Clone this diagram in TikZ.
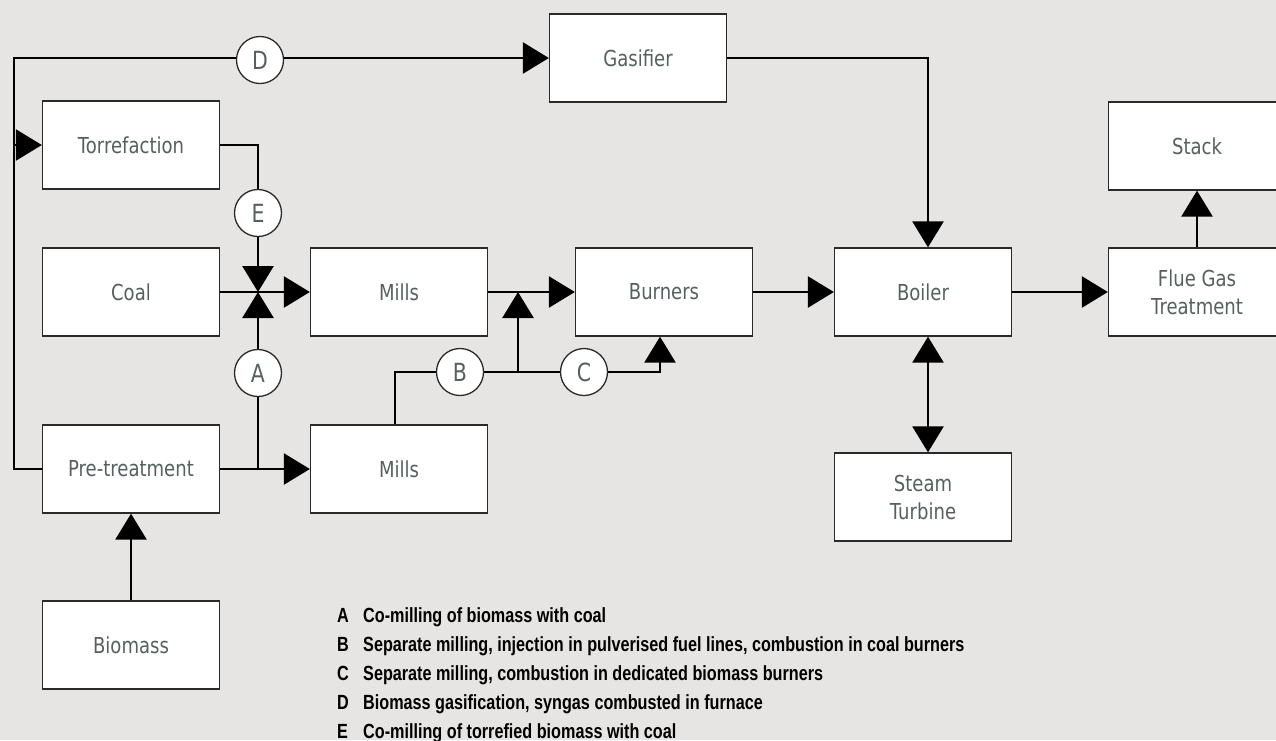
\documentclass[tikz,border=0pt]{standalone}
\usepackage{fontspec}
\setmainfont{DejaVu Sans}[FakeStretch=0.82]
\newfontfamily\legendfont{Liberation Sans}[FakeStretch=0.79]
\usetikzlibrary{arrows.meta,calc}
\definecolor{bg}{HTML}{E6E5E3}
\definecolor{txt}{HTML}{56605F}
\definecolor{frame}{HTML}{2A2A2A}
\tikzset{
  box/.style={draw=frame, line width=1.3pt, fill=white, minimum width=177pt, minimum height=88pt, inner sep=0pt,
    text=txt, align=center, font=\fontsize{22}{28}\selectfont},
  tag/.style={circle, draw=frame, line width=1.3pt, fill=white, minimum size=47pt, inner sep=0pt,
    text=txt, font=\fontsize{25}{28}\selectfont},
  link/.style={line width=2.6pt, black},
  arr/.style={link, -{Triangle[length=26pt,width=31pt]}},
  darr/.style={link, {Triangle[length=26pt,width=31pt]}-{Triangle[length=26pt,width=31pt]}},
  leg/.style={anchor=base west, inner sep=0pt, font=\legendfont\bfseries\fontsize{20.5}{22}\selectfont, text=black}
}
\begin{document}
\begin{tikzpicture}[x=1pt,y=-1pt]
\useasboundingbox (0,0) rectangle (1276,740);
\fill[bg] (0,0) rectangle (1276,740);

% boxes
\node[box] (tor) at (131,145) {Torrefaction};
\node[box] (gas) at (638,58) {Gasifier};
\node[box] (stack) at (1197,146) {Stack};
\node[box] (coal) at (131,292) {Coal};
\node[box] (mills1) at (399,292) {Mills};
\node[box] (burn) at (664,292) {Burners};
\node[box] (boiler) at (923,292) {Boiler};
\node[box] (flue) at (1197,292) {Flue Gas\\Treatment};
\node[box] (pre) at (131,469) {Pre-treatment};
\node[box] (mills2) at (399,469) {Mills};
\node[box] (turb) at (923,497) {Steam\\Turbine};
\node[box] (bio) at (131,645) {Biomass};

% junction coordinates
\coordinate (lc) at (14,469);
\coordinate (tc) at (14,58);
\coordinate (J1) at (258,292);
\coordinate (J2) at (518,292);
\coordinate (J3) at (518,372);
\coordinate (pj) at (258,469);

% connectors (drawn before tags so circles sit on top)
\draw[link] (pre.west) -- (lc) -- (tc) -- (260,58);
\draw[arr] (260,58) -- (gas.west);
\draw[arr] (lc |- tor.west) -- (tor.west);
\draw[link] (tor.east) -| (258,213);
\draw[arr] (258,213) -- (J1);
\draw[arr] (coal.east) -- (mills1.west);
\draw[arr] (pre.east) -- (mills2.west);
\draw[link] (pj) -- (258,373);
\draw[arr] (258,373) -- (J1);
\draw[link] ([xshift=-4pt]mills2.north) |- (584,372);
\draw[arr] (J3) -- (J2);
\draw[arr] (mills1.east) -- (burn.west);
\draw[arr] (584,372) -| ([xshift=-4pt]burn.south);
\draw[arr] (burn.east) -- (boiler.west);
\draw[arr] (gas.east) -| ([xshift=5pt]boiler.north);
\draw[darr] ([xshift=5pt]boiler.south) -- ([xshift=5pt]turb.north);
\draw[arr] (boiler.east) -- (flue.west);
\draw[arr] (flue.north) -- (stack.south);
\draw[arr] (bio.north) -- (pre.south);

% tags
\node[tag] (D) at (260,60) {D};
\node[tag] (E) at (258,213) {E};
\node[tag] (A) at (258,373) {A};
\node[tag] (B) at (460,372) {B};
\node[tag] (C) at (584,372) {C};

% legend
\node[leg] (la) at (337,622) {A};
\node[leg] (ta) at (363,622) {Co-milling of biomass with coal};
\node[leg] (lb) at (337,651) {B};
\node[leg] (tb) at (363,651) {Separate milling, injection in pulverised fuel lines, combustion in coal burners};
\node[leg] (lcc) at (337,680) {C};
\node[leg] (tcc) at (363,680) {Separate milling, combustion in dedicated biomass burners};
\node[leg] (ld) at (337,709) {D};
\node[leg] (td) at (363,709) {Biomass gasification, syngas combusted in furnace};
\node[leg] (le) at (337,738) {E};
\node[leg] (te) at (363,738) {Co-milling of torrefied biomass with coal};
\end{tikzpicture}
\end{document}
